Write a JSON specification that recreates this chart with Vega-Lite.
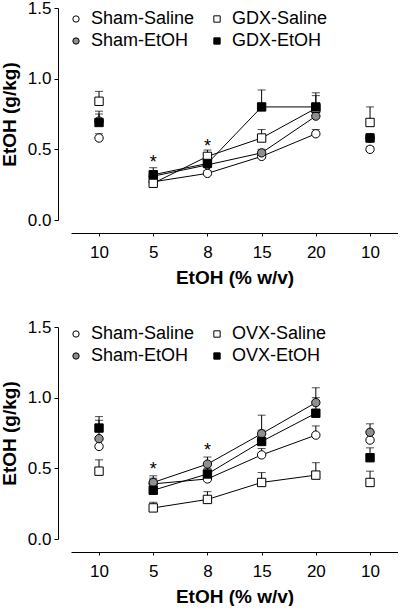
{
  "$schema": "https://vega.github.io/schema/vega-lite/v6.json",
  "background": "white",
  "padding": {"left": 0, "top": -1, "right": 0, "bottom": 0},
  "spacing": 31,
  "config": {
    "font": "Liberation Sans",
    "view": {"stroke": null},
    "axis": {"grid": false, "domainColor": "black", "tickColor": "black", "labelColor": "black", "titleColor": "black", "labelFont": "Liberation Sans", "titleFont": "Liberation Sans"},
    "legend": {"orient": "none", "legendX": -4, "columns": 2, "labelFont": "Liberation Sans", "labelFontSize": 18, "labelColor": "black", "symbolSize": 40, "symbolStrokeWidth": 1, "labelOffset": 6, "columnPadding": 13, "rowPadding": 4}
  },
  "datasets": {
    "d": [
      {"sex": "Male", "group": "Sham-Saline", "idx": 0, "mean": 0.58, "upper": 0.61},
      {"sex": "Male", "group": "Sham-Saline", "idx": 1, "mean": 0.27, "upper": 0.29},
      {"sex": "Male", "group": "Sham-Saline", "idx": 2, "mean": 0.33, "upper": 0.35},
      {"sex": "Male", "group": "Sham-Saline", "idx": 3, "mean": 0.45, "upper": 0.47},
      {"sex": "Male", "group": "Sham-Saline", "idx": 4, "mean": 0.61, "upper": 0.64},
      {"sex": "Male", "group": "Sham-Saline", "idx": 5, "mean": 0.5, "upper": 0.52},
      {"sex": "Male", "group": "Sham-EtOH", "idx": 0, "mean": 0.7, "upper": 0.75},
      {"sex": "Male", "group": "Sham-EtOH", "idx": 1, "mean": 0.31, "upper": 0.34},
      {"sex": "Male", "group": "Sham-EtOH", "idx": 2, "mean": 0.39, "upper": 0.42},
      {"sex": "Male", "group": "Sham-EtOH", "idx": 3, "mean": 0.475, "upper": 0.5},
      {"sex": "Male", "group": "Sham-EtOH", "idx": 4, "mean": 0.735, "upper": 0.8},
      {"sex": "Male", "group": "Sham-EtOH", "idx": 5, "mean": 0.58, "upper": 0.6},
      {"sex": "Male", "group": "GDX-Saline", "idx": 0, "mean": 0.84, "upper": 0.91},
      {"sex": "Male", "group": "GDX-Saline", "idx": 1, "mean": 0.26, "upper": 0.3},
      {"sex": "Male", "group": "GDX-Saline", "idx": 2, "mean": 0.45, "upper": 0.495},
      {"sex": "Male", "group": "GDX-Saline", "idx": 3, "mean": 0.58, "upper": 0.64},
      {"sex": "Male", "group": "GDX-Saline", "idx": 4, "mean": 0.79, "upper": 0.88},
      {"sex": "Male", "group": "GDX-Saline", "idx": 5, "mean": 0.69, "upper": 0.8},
      {"sex": "Male", "group": "GDX-EtOH", "idx": 0, "mean": 0.69, "upper": 0.77},
      {"sex": "Male", "group": "GDX-EtOH", "idx": 1, "mean": 0.32, "upper": 0.37},
      {"sex": "Male", "group": "GDX-EtOH", "idx": 2, "mean": 0.4, "upper": 0.43},
      {"sex": "Male", "group": "GDX-EtOH", "idx": 3, "mean": 0.8, "upper": 0.92},
      {"sex": "Male", "group": "GDX-EtOH", "idx": 4, "mean": 0.8, "upper": 0.9},
      {"sex": "Male", "group": "GDX-EtOH", "idx": 5, "mean": 0.58, "upper": 0.61},
      {"sex": "Female", "group": "Sham-Saline", "idx": 0, "mean": 0.655, "upper": 0.72},
      {"sex": "Female", "group": "Sham-Saline", "idx": 1, "mean": 0.39, "upper": 0.42},
      {"sex": "Female", "group": "Sham-Saline", "idx": 2, "mean": 0.425, "upper": 0.45},
      {"sex": "Female", "group": "Sham-Saline", "idx": 3, "mean": 0.595, "upper": 0.64},
      {"sex": "Female", "group": "Sham-Saline", "idx": 4, "mean": 0.735, "upper": 0.8},
      {"sex": "Female", "group": "Sham-Saline", "idx": 5, "mean": 0.7, "upper": 0.74},
      {"sex": "Female", "group": "Sham-EtOH", "idx": 0, "mean": 0.71, "upper": 0.84},
      {"sex": "Female", "group": "Sham-EtOH", "idx": 1, "mean": 0.4, "upper": 0.447},
      {"sex": "Female", "group": "Sham-EtOH", "idx": 2, "mean": 0.53, "upper": 0.58},
      {"sex": "Female", "group": "Sham-EtOH", "idx": 3, "mean": 0.745, "upper": 0.77},
      {"sex": "Female", "group": "Sham-EtOH", "idx": 4, "mean": 0.965, "upper": 1.0},
      {"sex": "Female", "group": "Sham-EtOH", "idx": 5, "mean": 0.755, "upper": 0.815},
      {"sex": "Female", "group": "OVX-Saline", "idx": 0, "mean": 0.48, "upper": 0.56},
      {"sex": "Female", "group": "OVX-Saline", "idx": 1, "mean": 0.22, "upper": 0.26},
      {"sex": "Female", "group": "OVX-Saline", "idx": 2, "mean": 0.28, "upper": 0.335},
      {"sex": "Female", "group": "OVX-Saline", "idx": 3, "mean": 0.4, "upper": 0.47},
      {"sex": "Female", "group": "OVX-Saline", "idx": 4, "mean": 0.452, "upper": 0.54},
      {"sex": "Female", "group": "OVX-Saline", "idx": 5, "mean": 0.4, "upper": 0.48},
      {"sex": "Female", "group": "OVX-EtOH", "idx": 0, "mean": 0.785, "upper": 0.866},
      {"sex": "Female", "group": "OVX-EtOH", "idx": 1, "mean": 0.345, "upper": 0.43},
      {"sex": "Female", "group": "OVX-EtOH", "idx": 2, "mean": 0.46, "upper": 0.5},
      {"sex": "Female", "group": "OVX-EtOH", "idx": 3, "mean": 0.69, "upper": 0.876},
      {"sex": "Female", "group": "OVX-EtOH", "idx": 4, "mean": 0.89, "upper": 1.07},
      {"sex": "Female", "group": "OVX-EtOH", "idx": 5, "mean": 0.575, "upper": 0.645}
    ],
    "stars": [
      {"sex": "Male", "idx": 1, "y": 0.406, "label": "*"},
      {"sex": "Male", "idx": 2, "y": 0.519, "label": "*"},
      {"sex": "Female", "idx": 1, "y": 0.49, "label": "*"},
      {"sex": "Female", "idx": 2, "y": 0.62, "label": "*"}
    ]
  },
  "vconcat": [
    {
      "width": 327,
      "height": 212,
      "data": {"name": "d"},
      "transform": [{"filter": "datum.sex == 'Male'"}],
      "encoding": {
        "x": {"field": "idx", "type": "quantitative", "scale": {"domain": [-0.517, 5.516], "nice": false, "zero": false},
          "axis": {"values": [0, 1, 2, 3, 4, 5], "labelExpr": "['10','5','8','15','20','10'][datum.value]", "offset": 13, "tickSize": 3, "labelFontSize": 17, "labelPadding": 8, "title": "EtOH (% w/v)", "titleFontSize": 19, "titleFontWeight": "bold", "titlePadding": 8}}
      },
      "layer": [
        {
          "mark": {"type": "rule", "color": "black", "strokeWidth": 1},
          "encoding": {
            "y": {"field": "mean", "type": "quantitative", "title": "EtOH (g/kg)", "scale": {"domain": [0, 1.5], "nice": false},
              "axis": {"values": [0, 0.25, 0.5, 0.75, 1, 1.25, 1.5], "labelExpr": "(datum.value*4)%2==1 ? '' : format(datum.value,'.1f')", "offset": 13, "tickSize": 4, "labelFontSize": 17, "labelPadding": 3, "titleFontSize": 19, "titleFontWeight": "bold", "titlePadding": 8,
                "encode": {"ticks": {"update": {"x2": {"signal": "(datum.value*4)%2==1 ? -2 : -4"}}}}}},
            "y2": {"field": "upper"}
          }
        },
        {
          "mark": {"type": "tick", "orient": "horizontal", "color": "black", "thickness": 1, "size": 8},
          "encoding": {"y": {"field": "upper", "type": "quantitative", "title": "EtOH (g/kg)"}}
        },
        {
          "transform": [{"filter": "datum.idx >= 1 && datum.idx <= 4"}],
          "mark": {"type": "line", "color": "black", "strokeWidth": 1},
          "encoding": {"y": {"field": "mean", "type": "quantitative", "title": "EtOH (g/kg)"}, "detail": {"field": "group"}}
        },
        {
          "mark": {"type": "point", "filled": true, "strokeWidth": 1, "size": 70, "opacity": 1},
          "encoding": {
            "y": {"field": "mean", "type": "quantitative", "title": "EtOH (g/kg)"},
            "fill": {"field": "group", "type": "nominal", "title": null, "scale": {"domain": ["Sham-Saline", "Sham-EtOH", "GDX-Saline", "GDX-EtOH"], "range": ["white", "#8f8f8f", "white", "black"]}, "legend": {"title": null, "legendY": 2}},
            "stroke": {"field": "group", "type": "nominal", "title": null, "scale": {"domain": ["Sham-Saline", "Sham-EtOH", "GDX-Saline", "GDX-EtOH"], "range": ["black", "black", "black", "black"]}, "legend": {"title": null, "legendY": 2}},
            "shape": {"field": "group", "type": "nominal", "title": null, "scale": {"domain": ["Sham-Saline", "Sham-EtOH", "GDX-Saline", "GDX-EtOH"], "range": ["circle", "circle", "square", "square"]}, "legend": {"title": null, "legendY": 2}}
          }
        },
        {
          "data": {"name": "stars"},
          "transform": [{"filter": "datum.sex == 'Male'"}],
          "mark": {"type": "text", "fontSize": 18, "baseline": "middle", "color": "black"},
          "encoding": {"y": {"field": "y", "type": "quantitative", "title": "EtOH (g/kg)"}, "text": {"field": "label"}}
        },
        {
          "data": {"values": [{"label": "Male"}]},
          "mark": {"type": "rect", "fill": "white", "stroke": "black", "strokeWidth": 1},
          "encoding": {"x": {"datum": -0.614, "type": "quantitative"}, "x2": {"datum": 0.332}, "y": {"datum": 1.196, "type": "quantitative"}, "y2": {"datum": 0.984}}
        },
        {
          "data": {"values": [{"label": "Male"}]},
          "mark": {"type": "text", "fontSize": 18, "baseline": "middle", "align": "center", "color": "black"},
          "encoding": {"x": {"datum": -0.142, "type": "quantitative"}, "y": {"datum": 1.09, "type": "quantitative"}, "text": {"field": "label"}}
        }
      ]
    },
    {
      "width": 327,
      "height": 212,
      "data": {"name": "d"},
      "transform": [{"filter": "datum.sex == 'Female'"}],
      "encoding": {
        "x": {"field": "idx", "type": "quantitative", "scale": {"domain": [-0.517, 5.516], "nice": false, "zero": false},
          "axis": {"values": [0, 1, 2, 3, 4, 5], "labelExpr": "['10','5','8','15','20','10'][datum.value]", "offset": 13, "tickSize": 3, "labelFontSize": 17, "labelPadding": 8, "title": "EtOH (% w/v)", "titleFontSize": 19, "titleFontWeight": "bold", "titlePadding": 8}}
      },
      "layer": [
        {
          "mark": {"type": "rule", "color": "black", "strokeWidth": 1},
          "encoding": {
            "y": {"field": "mean", "type": "quantitative", "title": "EtOH (g/kg)", "scale": {"domain": [0, 1.5], "nice": false},
              "axis": {"values": [0, 0.25, 0.5, 0.75, 1, 1.25, 1.5], "labelExpr": "(datum.value*4)%2==1 ? '' : format(datum.value,'.1f')", "offset": 13, "tickSize": 4, "labelFontSize": 17, "labelPadding": 3, "titleFontSize": 19, "titleFontWeight": "bold", "titlePadding": 8,
                "encode": {"ticks": {"update": {"x2": {"signal": "(datum.value*4)%2==1 ? -2 : -4"}}}}}},
            "y2": {"field": "upper"}
          }
        },
        {
          "mark": {"type": "tick", "orient": "horizontal", "color": "black", "thickness": 1, "size": 8},
          "encoding": {"y": {"field": "upper", "type": "quantitative", "title": "EtOH (g/kg)"}}
        },
        {
          "transform": [{"filter": "datum.idx >= 1 && datum.idx <= 4"}],
          "mark": {"type": "line", "color": "black", "strokeWidth": 1},
          "encoding": {"y": {"field": "mean", "type": "quantitative", "title": "EtOH (g/kg)"}, "detail": {"field": "group"}}
        },
        {
          "mark": {"type": "point", "filled": true, "strokeWidth": 1, "size": 70, "opacity": 1},
          "encoding": {
            "y": {"field": "mean", "type": "quantitative", "title": "EtOH (g/kg)"},
            "fill": {"field": "group", "type": "nominal", "title": null, "scale": {"domain": ["Sham-Saline", "Sham-EtOH", "OVX-Saline", "OVX-EtOH"], "range": ["white", "#8f8f8f", "white", "black"]}, "legend": {"title": null, "legendY": -2}},
            "stroke": {"field": "group", "type": "nominal", "title": null, "scale": {"domain": ["Sham-Saline", "Sham-EtOH", "OVX-Saline", "OVX-EtOH"], "range": ["black", "black", "black", "black"]}, "legend": {"title": null, "legendY": -2}},
            "shape": {"field": "group", "type": "nominal", "title": null, "scale": {"domain": ["Sham-Saline", "Sham-EtOH", "OVX-Saline", "OVX-EtOH"], "range": ["circle", "circle", "square", "square"]}, "legend": {"title": null, "legendY": -2}}
          }
        },
        {
          "data": {"name": "stars"},
          "transform": [{"filter": "datum.sex == 'Female'"}],
          "mark": {"type": "text", "fontSize": 18, "baseline": "middle", "color": "black"},
          "encoding": {"y": {"field": "y", "type": "quantitative", "title": "EtOH (g/kg)"}, "text": {"field": "label"}}
        },
        {
          "data": {"values": [{"label": "Female"}]},
          "mark": {"type": "rect", "fill": "white", "stroke": "black", "strokeWidth": 1},
          "encoding": {"x": {"datum": -0.646, "type": "quantitative"}, "x2": {"datum": 0.769}, "y": {"datum": 1.217, "type": "quantitative"}, "y2": {"datum": 0.993}}
        },
        {
          "data": {"values": [{"label": "Female"}]},
          "mark": {"type": "text", "fontSize": 18, "baseline": "middle", "align": "center", "color": "black"},
          "encoding": {"x": {"datum": 0.061, "type": "quantitative"}, "y": {"datum": 1.105, "type": "quantitative"}, "text": {"field": "label"}}
        }
      ]
    }
  ],
  "resolve": {"scale": {"fill": "independent", "stroke": "independent", "shape": "independent", "x": "independent", "y": "independent"}, "legend": {"fill": "independent", "stroke": "independent", "shape": "independent"}}
}
